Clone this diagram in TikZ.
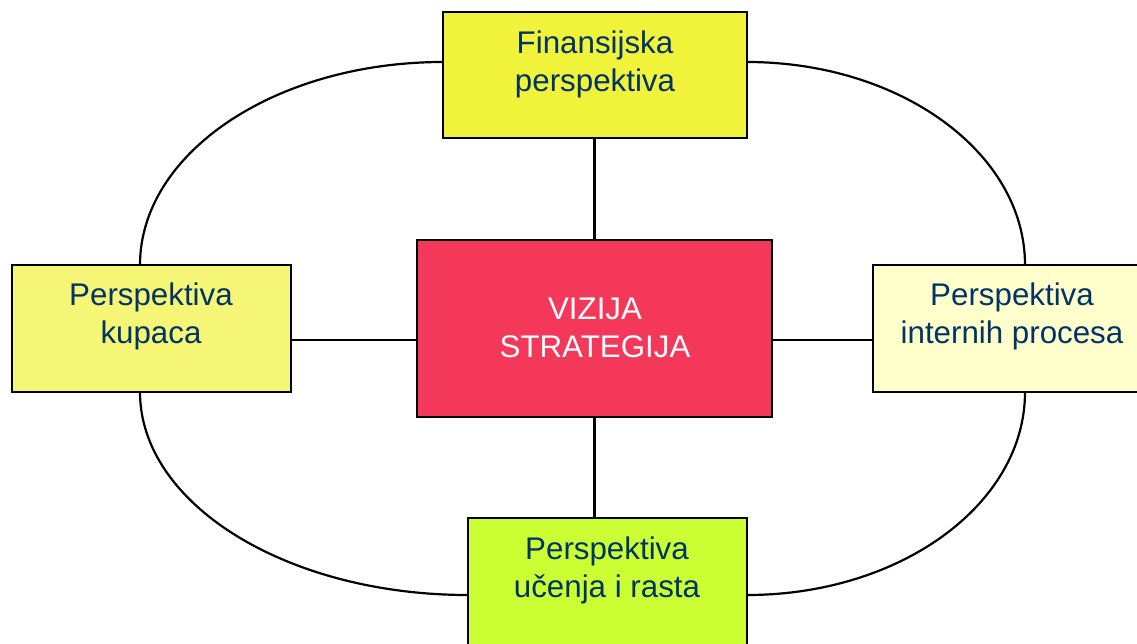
\documentclass[tikz,border=0pt]{standalone}
\usepackage{fontspec}
\setmainfont{Liberation Sans}
\definecolor{finc}{RGB}{240,243,58}
\definecolor{kupc}{RGB}{245,246,118}
\definecolor{intc}{RGB}{255,255,204}
\definecolor{ucc}{RGB}{204,255,51}
\definecolor{vizc}{RGB}{244,56,90}
\definecolor{txtc}{RGB}{0,51,102}
\newcommand{\twolines}[2]{\vtop{\baselineskip=38pt\halign{\hfil##\hfil\cr #1\cr #2\cr}}}
\tikzset{
  box/.style={draw=black, line width=2.5pt, rectangle, inner sep=0pt},
  lbl/.style={anchor=base, inner sep=0pt, font=\fontsize{31.3}{38}\selectfont, text=txtc},
  conn/.style={draw=black, line width=2.2pt},
}
\begin{document}
\begin{tikzpicture}[x=1pt, y=-1pt]
\useasboundingbox (0,0) rectangle (1137,643);
\clip (0,0) rectangle (1137,643);
% outer curves
\coordinate (c1) at (443,62);
\coordinate (c3) at (747,62);
\coordinate (c5) at (140,392);
\coordinate (c7) at (1025,392);
\draw[conn] (c1) arc[start angle=-90, end angle=-180, x radius=303, y radius=203];
\draw[conn] (c3) arc[start angle=-90, end angle=0, x radius=278, y radius=203];
\draw[conn] (c5) arc[start angle=180, end angle=90, x radius=328, y radius=203];
\draw[conn] (c7) arc[start angle=0, end angle=90, x radius=278, y radius=203];
% boxes
\node[box, fill=finc, minimum width=304pt, minimum height=126pt] (fin) at (595,75) {};
\node[box, fill=kupc, minimum width=279pt, minimum height=127pt] (kup) at (151.5,328.5) {};
\node[box, fill=intc, minimum width=290pt, minimum height=127pt] (int) at (1018,328.5) {};
\node[box, fill=ucc, minimum width=279pt, minimum height=150pt] (uce) at (607.5,593) {};
\node[box, fill=vizc, minimum width=355pt, minimum height=177pt] (viz) at (594.5,328.5) {};
% connectors
\coordinate (hl) at (0,340);
\draw[conn] (fin.south -| viz.north) -- (viz.north);
\draw[conn] (viz.west |- hl) -- (kup.east |- hl);
\draw[conn] (viz.east |- hl) -- (int.west |- hl);
\draw[conn] (viz.south) -- (uce.north -| viz.south);
% texts
\node[lbl] (tfin) at (595,53) {\twolines{Finansijska}{perspektiva}};
\node[lbl] (tkup) at (151,305) {\twolines{Perspektiva}{kupaca}};
\node[lbl] (tint) at (1012,305) {\twolines{Perspektiva}{internih procesa}};
\node[lbl] (tuce) at (607,559) {\twolines{Perspektiva}{učenja i rasta}};
\node[lbl, text=white] (tviz) at (595,319) {\twolines{VIZIJA}{STRATEGIJA}};
\end{tikzpicture}
\end{document}
